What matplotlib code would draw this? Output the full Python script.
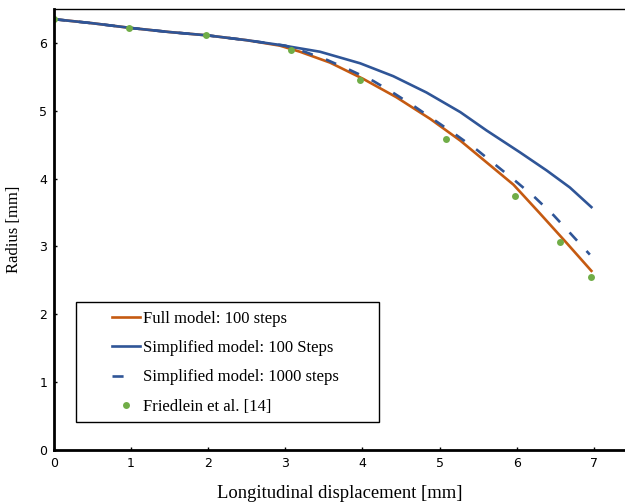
import matplotlib
matplotlib.use('Agg')
import matplotlib.pyplot as plt
from matplotlib.lines import Line2D
from matplotlib.patches import Rectangle

# Full model, 100 steps
full_x = [0.0, 0.5, 1.0, 1.5, 2.0, 2.5, 2.93, 3.19, 3.58, 4.01, 4.44, 4.88, 5.27, 5.61, 5.96, 6.30, 6.65, 6.97]
full_y = [6.35, 6.29, 6.22, 6.16, 6.11, 6.04, 5.96, 5.87, 5.71, 5.47, 5.20, 4.88, 4.56, 4.24, 3.91, 3.49, 3.05, 2.64]

# Simplified model, 100 steps
simp100_x = [0.0, 0.5, 1.0, 1.5, 2.0, 2.5, 2.93, 3.45, 3.97, 4.40, 4.83, 5.27, 5.61, 6.04, 6.39, 6.69, 6.97]
simp100_y = [6.35, 6.29, 6.22, 6.16, 6.11, 6.04, 5.97, 5.87, 5.70, 5.51, 5.27, 4.98, 4.71, 4.39, 4.12, 3.87, 3.58]

# Simplified model, 1000 steps
simp1000_x = [0.0, 0.5, 1.0, 1.5, 2.0, 2.5, 3.0, 3.25, 3.54, 3.84, 4.14, 4.42, 4.68, 4.95,
              5.22, 5.49, 5.74, 5.99, 6.24, 6.48, 6.70, 6.95]
simp1000_y = [6.35, 6.29, 6.22, 6.16, 6.11, 6.04, 5.96, 5.87, 5.75, 5.60, 5.44, 5.25, 5.06, 4.85,
              4.64, 4.42, 4.19, 3.96, 3.72, 3.46, 3.19, 2.88]

# Friedlein et al. [14]
ref_x = [0.0, 0.97, 1.97, 3.07, 3.97, 5.09, 5.98, 6.56, 6.96]
ref_y = [6.35, 6.22, 6.11, 5.90, 5.46, 4.59, 3.74, 3.06, 2.55]

orange = '#C55A11'
blue = '#2F5597'
green = '#70AD47'
serif = ['Liberation Serif', 'DejaVu Serif']

fig = plt.figure(figsize=(6.25, 5.04), dpi=100)
ax = fig.add_axes([54/625, 54/504, 1 - 54/625, 441/504])

ax.plot(full_x, full_y, color=orange, lw=1.9)
ax.plot(simp100_x, simp100_y, color=blue, lw=1.9)
ax.plot(simp1000_x, simp1000_y, color=blue, lw=1.9, dashes=(4.2, 5.3))
ax.plot(ref_x, ref_y, 'o', color=green, ms=5, mec='none')

ax.set_xlim(0, 571/77.1)
ax.set_ylim(0, 6.5)
ax.set_xticks(range(0, 8))
ax.set_yticks(range(0, 7))
ax.tick_params(direction='in', length=2, width=1, labelsize=9, pad=5)
ax.spines['left'].set_linewidth(2)
ax.spines['bottom'].set_linewidth(2)
ax.spines['top'].set_linewidth(1)
ax.spines['right'].set_visible(False)

ax.set_xlabel('Longitudinal displacement [mm]', family=serif, fontsize=13.4, labelpad=11)
ax.set_ylabel('Radius [mm]', family=serif, fontsize=12, labelpad=12)

# legend box drawn by hand so the left padding matches
ax.add_patch(Rectangle((0.0394, 0.0628), 0.529, 0.272, transform=ax.transAxes,
                       fill=False, edgecolor='black', lw=1, zorder=5))

handles = [
    Line2D([], [], color=orange, lw=1.9),
    Line2D([], [], color=blue, lw=1.9),
    Line2D([], [], color=blue, lw=1.9, dashes=(4.2, 12)),
    Line2D([], [], ls='none', marker='o', color=green, ms=5, mec='none'),
]
labels = ['Full model: 100 steps', 'Simplified model: 100 Steps',
          'Simplified model: 1000 steps', 'Friedlein et al. [14]']
leg = ax.legend(handles, labels, loc='center left', bbox_to_anchor=(0.101, 0.198),
                prop={'family': serif, 'size': 12}, frameon=False, borderaxespad=0,
                borderpad=0, handlelength=1.68, handletextpad=0.2, labelspacing=0.80)

fig.savefig('out.png', dpi=100)
